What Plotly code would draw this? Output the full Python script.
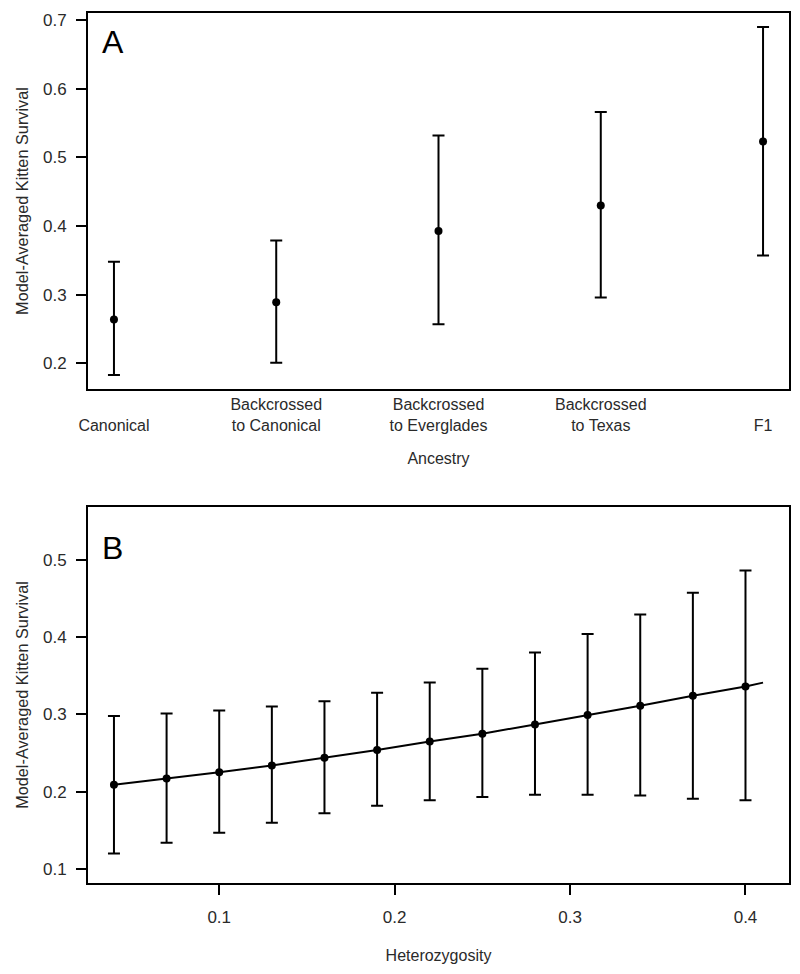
import plotly.graph_objects as go
from plotly.subplots import make_subplots

# Panel A data
ancestry = ["Canonical", "Backcrossed<br>to Canonical", "Backcrossed<br>to Everglades",
            "Backcrossed<br>to Texas", "F1"]
ancestry_pos = [1, 2, 3, 4, 5]
survA = [0.264, 0.289, 0.393, 0.430, 0.523]
upperA = [0.348, 0.379, 0.532, 0.566, 0.690]
lowerA = [0.183, 0.201, 0.257, 0.296, 0.357]

# Panel B data
het = [0.04, 0.07, 0.10, 0.13, 0.16, 0.19, 0.22, 0.25, 0.28, 0.31, 0.34, 0.37, 0.40]
survB = [0.209, 0.217, 0.225, 0.234, 0.244, 0.254, 0.265, 0.275, 0.287, 0.299, 0.311, 0.324, 0.336]
upperB = [0.298, 0.301, 0.305, 0.310, 0.317, 0.328, 0.341, 0.359, 0.380, 0.404, 0.429, 0.457, 0.486]
lowerB = [0.120, 0.134, 0.147, 0.160, 0.172, 0.182, 0.189, 0.193, 0.196, 0.196, 0.195, 0.191, 0.189]
fit_x = [0.04, 0.07, 0.10, 0.13, 0.16, 0.19, 0.22, 0.25, 0.28, 0.31, 0.34, 0.37, 0.40, 0.41]
fit_y = [0.209, 0.217, 0.225, 0.234, 0.244, 0.254, 0.265, 0.275, 0.287, 0.299, 0.311, 0.324, 0.336, 0.341]

FONT = "Arial, Liberation Sans, sans-serif"
TXT = "#2a2a2a"

fig = make_subplots(rows=2, cols=1, vertical_spacing=0.1356)

fig.add_trace(go.Scatter(
    x=ancestry_pos, y=survA, mode="markers",
    marker=dict(color="black", size=8),
    error_y=dict(type="data", symmetric=False,
                 array=[u - v for u, v in zip(upperA, survA)],
                 arrayminus=[v - l for v, l in zip(survA, lowerA)],
                 color="black", thickness=2, width=6),
    showlegend=False), row=1, col=1)

fig.add_trace(go.Scatter(
    x=fit_x, y=fit_y, mode="lines",
    line=dict(color="black", width=2),
    showlegend=False), row=2, col=1)

fig.add_trace(go.Scatter(
    x=het, y=survB, mode="markers",
    marker=dict(color="black", size=8),
    error_y=dict(type="data", symmetric=False,
                 array=[u - v for u, v in zip(upperB, survB)],
                 arrayminus=[v - l for v, l in zip(survB, lowerB)],
                 color="black", thickness=2, width=6),
    showlegend=False), row=2, col=1)

axis_common = dict(showline=True, linecolor="black", linewidth=2, mirror=True,
                   showgrid=False, zeroline=False, automargin=False,
                   tickfont=dict(family=FONT, size=17, color=TXT))

ticktextA = [t if "<br>" in t else " <br>" + t for t in ancestry]
ytitle_font = dict(family=FONT, size=16.3, color=TXT)

fig.update_xaxes(row=1, col=1, range=[0.84, 5.16], tickvals=ancestry_pos,
                 ticktext=ticktextA, ticks="", ticklabelstandoff=0,
                 tickfont=dict(family=FONT, size=16, color=TXT),
                 title=dict(text="Ancestry", font=dict(family=FONT, size=16, color=TXT), standoff=20),
                 **{k: v for k, v in axis_common.items() if k != "tickfont"})
fig.update_yaxes(row=1, col=1, range=[0.1627, 0.7103], tickvals=[0.2, 0.3, 0.4, 0.5, 0.6, 0.7],
                 ticktext=["0.2", "0.3", "0.4", "0.5", "0.6", "0.7"],
                 ticks="outside", ticklen=10, tickwidth=1.5, tickcolor="black", ticklabelstandoff=6,
                 title=dict(text="Model-Averaged Kitten Survival", font=ytitle_font, standoff=10),
                 **axis_common)
fig.update_xaxes(row=2, col=1, range=[0.0252, 0.4248], tickvals=[0.1, 0.2, 0.3, 0.4],
                 ticktext=["0.1", "0.2", "0.3", "0.4"],
                 ticks="outside", ticklen=10, tickwidth=1.5, tickcolor="black", ticklabelstandoff=8,
                 title=dict(text="Heterozygosity", font=dict(family=FONT, size=16, color=TXT), standoff=23),
                 **axis_common)
fig.update_yaxes(row=2, col=1, range=[0.082, 0.568], tickvals=[0.1, 0.2, 0.3, 0.4, 0.5],
                 ticktext=["0.1", "0.2", "0.3", "0.4", "0.5"],
                 ticks="outside", ticklen=10, tickwidth=1.5, tickcolor="black", ticklabelstandoff=6,
                 title=dict(text="Model-Averaged Kitten Survival", font=ytitle_font, standoff=10),
                 **axis_common)

fig.add_annotation(text="A", xref="x domain", yref="y domain", x=0.017, y=0.922,
                   xanchor="left", yanchor="middle", showarrow=False,
                   font=dict(family=FONT, size=32, color="black"))
fig.add_annotation(text="B", xref="x2 domain", yref="y2 domain", x=0.017, y=0.891,
                   xanchor="left", yanchor="middle", showarrow=False,
                   font=dict(family=FONT, size=32, color="black"))

# page body has an 8px default margin; size the figure to compensate
fig.update_layout(width=792, height=966, margin=dict(l=80, r=11, t=5, b=91, autoexpand=False),
                  plot_bgcolor="white", paper_bgcolor="white",
                  font=dict(family=FONT, color=TXT))
fig.update_xaxes(row=1, col=1, domain=[0, 1])
fig.update_yaxes(row=1, col=1, domain=[0.5678, 1.0])
fig.update_yaxes(row=2, col=1, domain=[0.0, 0.4322])

fig.write_html("out.html")
